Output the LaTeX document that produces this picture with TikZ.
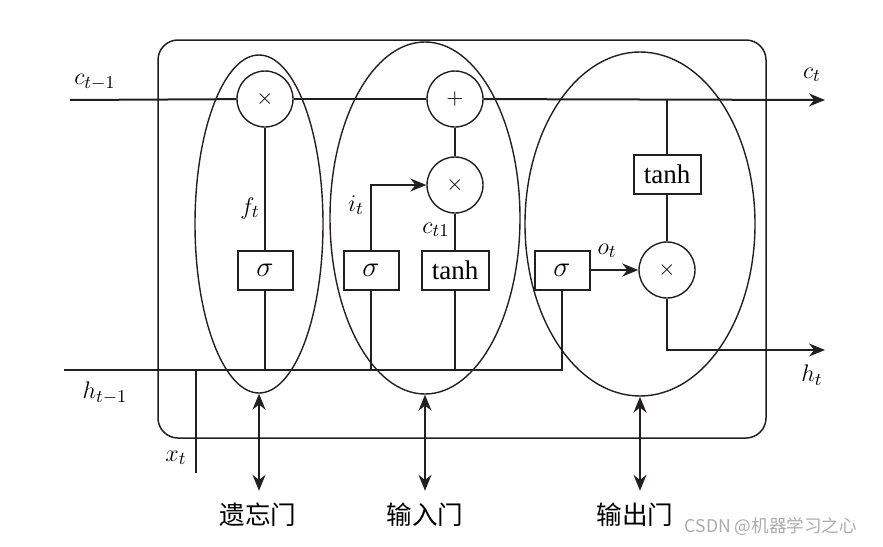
\documentclass[tikz,border=0pt]{standalone}
\usepackage{fontspec}
\setmainfont{Liberation Serif}
\newfontfamily\cjkfont{Noto Sans CJK SC}
\usetikzlibrary{arrows.meta,shapes.geometric,positioning}
\definecolor{LSInk}{HTML}{231F20}
\definecolor{LSMark}{HTML}{ABABAB}

\tikzset{
  wire/.style={LSInk,line width=1pt},
  flow/.style={wire,-{Stealth[length=8pt,width=6.5pt]}},
  twoway/.style={wire,{Stealth[length=8pt,width=6.5pt]}-{Stealth[length=8pt,width=6.5pt]}},
  opnode/.style={circle,draw=LSInk,line width=0.7pt,minimum size=28pt,inner sep=0pt,font=\fontsize{11}{13}\selectfont},
  actbox/.style={rectangle,draw=LSInk,line width=1pt,minimum width=27.5pt,minimum height=19.5pt,inner sep=0pt,font=\fontsize{13.5}{16}\selectfont},
  tanhbox/.style={actbox,minimum width=33.5pt},
  gatering/.style={ellipse,draw=LSInk,line width=0.7pt,inner sep=0pt},
  varlabel/.style={inner sep=1pt,font=\fontsize{13}{15}\selectfont},
  gatename/.style={inner sep=1pt,font=\cjkfont\fontsize{12.8}{14}\selectfont}
}

\begin{document}
\begin{tikzpicture}[x=0.5pt,y=-0.5pt]
\path[use as bounding box] (0,0) rectangle (883,546);

% cell frame
\draw[LSInk,line width=0.75pt,rounded corners=10pt] (158,40) rectangle (766,438);

% gate groups
\node[gatering,minimum width=64pt,minimum height=169pt] (fgate) at (259,224) {};
\node[gatering,minimum width=95pt,minimum height=176pt] (igate) at (425,218) {};
\node[gatering,minimum width=115pt,minimum height=172pt] (ogate) at (640,224) {};

% operations
\node[opnode] (fmul) at (265,99) {$\times$};
\node[opnode] (iadd) at (455,99) {$+$};
\node[opnode] (imul) at (455,185) {$\times$};
\node[opnode] (omul) at (667,270) {$\times$};

\node[actbox] (fsig) at (265,270) {$\sigma$};
\node[actbox] (isig) at (371,270) {$\sigma$};
\node[tanhbox] (itanh) at (455,270) {tanh};
\node[actbox] (osig) at (562,270) {$\sigma$};
\node[tanhbox] (otanh) at (667,174) {tanh};

% ends of the lines
\coordinate (cin) at (70,100);
\coordinate (cout) at (825,100);
\coordinate (hin) at (64,370);
\coordinate (hout) at (825,350);
\coordinate (xin) at (196,473);

% cell state
\draw[wire] (cin) -- (fmul);
\draw[wire] (fmul) -- (iadd);
\draw[flow] (iadd) -- (cout);
\draw[wire] (otanh |- cout) -- (otanh);

% hidden state and input
\draw[wire] (hin) -| (osig.south);
\draw[wire] (xin) -- (xin |- hin);

% forget gate
\draw[wire] (fsig) -- (fsig |- hin);
\draw[wire] (fmul) -- (fsig);

% input gate
\draw[wire] (isig) -- (isig |- hin);
\draw[wire] (itanh) -- (itanh |- hin);
\draw[flow] (isig.north) |- (imul.west);
\draw[wire] (iadd) -- (imul);
\draw[wire] (imul) -- (itanh);

% output gate
\draw[flow] (osig) -- (omul);
\draw[wire] (otanh) -- (omul);
\draw[flow] (omul.south) |- (hout);

% labels
\node[varlabel] (lcin) at (95,82) {$c_{t-1}$};
\node[varlabel] (lcout) at (812,75) {$c_t$};
\node[varlabel] (lhin) at (105,393) {$h_{t-1}$};
\node[varlabel] (lhout) at (812,375) {$h_t$};
\node[varlabel] (lxin) at (176,458) {$x_t$};
\node[varlabel] (lf) at (250,208) {$f_t$};
\node[varlabel] (li) at (356,205) {$i_t$};
\node[varlabel] (lc) at (436,230) {$c_{t1}$};
\node[varlabel] (lo) at (607,251) {$o_t$};

% gate names
\node[gatename] (fname) at (258,515) {遗忘门};
\node[gatename] (iname) at (425,515) {输入门};
\node[gatename] (oname) at (635,515) {输出门};
\draw[twoway,shorten >=5pt] (fgate.south) -- (fgate.south |- fname.north);
\draw[twoway,shorten >=5pt] (igate.south) -- (igate.south |- iname.north);
\draw[twoway,shorten >=5pt] (ogate.south) -- (ogate.south |- oname.north);

\node[LSMark,inner sep=0pt,font=\cjkfont\fontsize{8.8}{10}\selectfont] (mark) at (771,527) {CSDN @机器学习之心};
\end{tikzpicture}
\end{document}
